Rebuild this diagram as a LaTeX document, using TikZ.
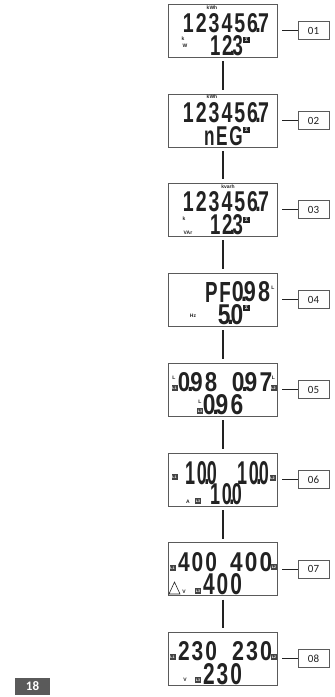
\documentclass[tikz,border=0pt]{standalone}
\usepackage{graphicx}
\usepackage{fontspec}
\setmainfont{Liberation Sans}
\newfontfamily\labfont{Carlito}
\newfontfamily\lcdfont[LetterSpace=10,Ligatures=NoCommon]{Liberation Sans}
\definecolor{frame}{HTML}{5A5A5A}
\definecolor{ink}{HTML}{222222}
\tikzset{
  disp/.style={draw=frame,line width=.9pt,minimum width=109pt,minimum height=53pt,inner sep=0pt,outer sep=0pt},
  numtag/.style={draw=frame,line width=.7pt,minimum width=31pt,minimum height=18pt,inner sep=0pt,outer sep=0pt,text=ink,font=\labfont\fontsize{11}{11}\selectfont},
  link/.style={draw=ink,line width=2pt},
  tick/.style={draw=ink,line width=.7pt},
  segtxt/.style={inner sep=0pt,outer sep=0pt,text=ink,font=\lcdfont\bfseries},
  small/.style={inner sep=0pt,text=ink,font=\bfseries\fontsize{5}{5}\selectfont},
  chip/.style={fill=ink!85,minimum width=6pt,minimum height=6pt,inner sep=0pt,text=white,font=\bfseries\fontsize{3.6}{3.6}\selectfont},
  sigma/.style={fill=ink,minimum width=7pt,minimum height=6pt,inner sep=0pt,text=white,font=\bfseries\fontsize{5}{5}\selectfont},
  pagebox/.style={fill=frame,minimum width=35pt,minimum height=17pt,inner sep=0pt,text=white,font=\labfont\bfseries\fontsize{13}{13}\selectfont}
}
% name, x left, x right, y top, y bottom, text
\newcommand\seg[6]{\node[segtxt] (#1) at ({(#2+#3)/2},{(#4+#5)/2}) {\resizebox{\dimexpr#3pt-#2pt\relax}{\dimexpr#5pt-#4pt\relax}{#6\kern-.1em}};}
\newcommand\dt{\kern-.14em.\kern-.14em}
\begin{document}
\begin{tikzpicture}[x=1pt,y=-1pt]
\useasboundingbox (0,0) rectangle (335,697);
% displays
\node[disp] (d1) at (222.5,30.5) {};
\node[disp] (d2) at (222.5,120.5) {};
\node[disp] (d3) at (222.5,209.5) {};
\node[disp] (d4) at (222.5,299.5) {};
\node[disp] (d5) at (222.5,389.5) {};
\node[disp] (d6) at (222.5,479.5) {};
\node[disp] (d7) at (222.5,569) {};
\node[disp] (d8) at (222.5,658.5) {};
% number tags
\node[numtag] (n1) at (313.5,30.5) {01};
\node[numtag] (n2) at (313.5,120.5) {02};
\node[numtag] (n3) at (313.5,209.5) {03};
\node[numtag] (n4) at (313.5,299.5) {04};
\node[numtag] (n5) at (313.5,389.5) {05};
\node[numtag] (n6) at (313.5,479.5) {06};
\node[numtag] (n7) at (313.5,569) {07};
\node[numtag] (n8) at (313.5,658.5) {08};
% connectors
\foreach \a/\b in {d1/d2,d2/d3,d3/d4,d4/d5,d5/d6,d6/d7,d7/d8}
  \draw[link] ([yshift=-4pt]\a.south) -- ([yshift=4pt]\b.north);
\foreach \i in {1,...,8}
  \draw[tick] ([xshift=5pt]d\i.east) -- (n\i.west);
% row 1
\node[small] (k1) at (212,8) {kWh};
\seg{a1}{183}{267}{14}{33}{123456\dt 7}
\seg{b1}{210}{241}{36}{56}{12\dt 3}
\node[small] (p1) at (183,39) {k};
\node[small] (q1) at (185,46) {W};
\node[sigma] (s1) at (246.5,40) {Σ};
% row 2
\node[small] (k2) at (212,97) {kWh};
\seg{a2}{183}{267}{103}{123}{123456\dt 7}
\seg{b2}{204}{241}{127}{146}{nEG}
\node[sigma] (s2) at (246.5,130) {Σ};
% row 3
\node[small] (k3) at (228,187) {kvarh};
\seg{a3}{183}{267}{192}{212}{123456\dt 7}
\seg{b3}{210}{241}{215}{235}{12\dt 3}
\node[small] (p3) at (184,219) {k};
\node[small] (q3) at (188,233) {VAr};
\node[sigma] (s3) at (246.5,220) {Σ};
% row 4
\seg{a4}{205}{229}{282}{302}{PF}
\seg{c4}{232}{268}{282}{302}{0\dt 98}
\node[small] (l4) at (273,288) {L};
\seg{b4}{218}{241}{305}{325}{5\dt 0}
\node[small] (h4) at (193,316) {Hz};
\node[sigma] (s4) at (246.5,308) {Σ};
% row 5
\seg{a5}{178}{215}{373}{392}{0\dt 98}
\seg{c5}{232}{270}{373}{392}{0\dt 97}
\seg{b5}{203}{241}{395}{415}{0\dt 96}
\node[small] (l5a) at (174,378) {L};
\node[chip] (t5a) at (174.5,388) {L1};
\node[small] (l5b) at (273.5,378) {L};
\node[chip] (t5b) at (273.5,388) {L2};
\node[small] (l5c) at (200,402) {L};
\node[chip] (t5c) at (200,411) {L3};
% row 6
\seg{a6}{185}{215}{462}{485}{10\dt 0}
\seg{c6}{237}{267}{462}{485}{10\dt 0}
\seg{b6}{210}{240}{484}{505}{10\dt 0}
\node[chip] (t6a) at (174.5,477) {L1};
\node[chip] (t6b) at (272.5,478) {L2};
\node[chip] (t6c) at (198,501) {L3};
\node[small] (u6) at (188,502) {A};
% row 7
\seg{a7}{178}{215}{553}{572}{400}
\seg{c7}{230}{270}{553}{572}{400}
\seg{b7}{203}{240}{574}{595}{400}
\node[chip] (t7a) at (172.5,568) {L1};
\node[chip] (t7b) at (274,567) {L2};
\node[chip] (t7c) at (198,591) {L3};
\draw[draw=ink,line width=.6pt] (169,594) -- (174.5,582) -- (180,594) -- cycle;
\node[small] (u7) at (184,592) {V};
% row 8
\seg{a8}{178}{215}{642}{661}{230}
\seg{c8}{232}{270}{642}{661}{230}
\seg{b8}{203}{240}{664}{685}{230}
\node[chip] (t8a) at (172.5,657) {L1};
\node[chip] (t8b) at (274,657) {L2};
\node[chip] (t8c) at (198,680) {L3};
\node[small] (u8) at (185,680) {V};
% page number
\node[pagebox] (pg) at (32.5,686.5) {18};
\end{tikzpicture}
\end{document}
